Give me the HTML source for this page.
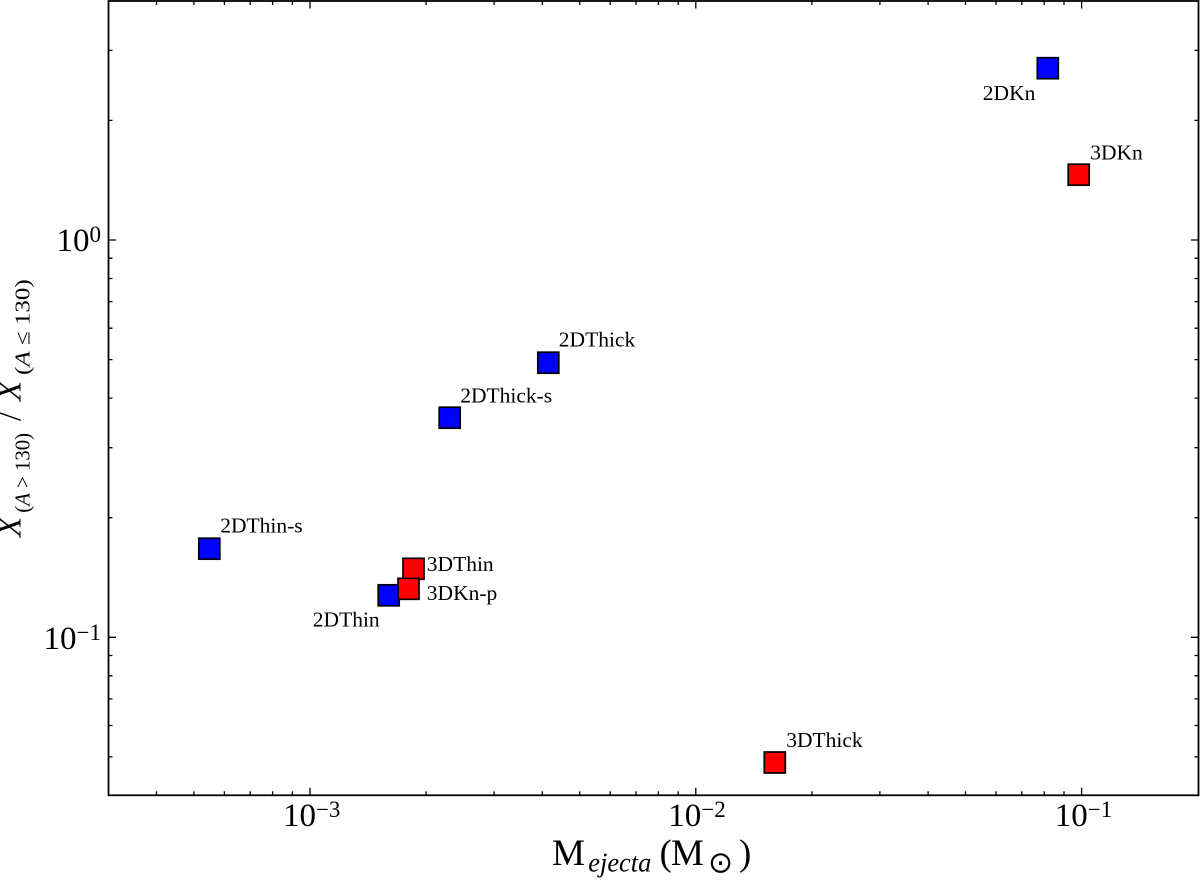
<!DOCTYPE html>
<html>
<head>
<meta charset="utf-8">
<style>
  html, body { margin: 0; padding: 0; background: #ffffff; }
  svg { display: block; }
  text { font-family: "Liberation Serif", "DejaVu Serif", serif; fill: #000; }
</style>
</head>
<body>
<svg width="1200" height="880" viewBox="0 0 1200 880" xmlns="http://www.w3.org/2000/svg">
  <rect x="0" y="0" width="1200" height="880" fill="#ffffff"/>

  <!-- ticks -->
  <g stroke="#000" stroke-width="1.3" fill="none">
    <path d="M310 795.3V787.8M695.8 795.3V787.8M1081.6 795.3V787.8
             M310 1V8.5M695.8 1V8.5M1081.6 1V8.5"/>
    <path d="M156.5 795.3V791.3M193.9 795.3V791.3M224.4 795.3V791.3M250.2 795.3V791.3M272.6 795.3V791.3M292.4 795.3V791.3
             M426.1 795.3V791.3M494.1 795.3V791.3M542.3 795.3V791.3M579.7 795.3V791.3M610.2 795.3V791.3M636 795.3V791.3M658.4 795.3V791.3M678.2 795.3V791.3
             M811.9 795.3V791.3M879.9 795.3V791.3M928.1 795.3V791.3M965.5 795.3V791.3M996 795.3V791.3M1021.8 795.3V791.3M1044.2 795.3V791.3M1064 795.3V791.3"/>
    <path d="M156.5 1V5M193.9 1V5M224.4 1V5M250.2 1V5M272.6 1V5M292.4 1V5
             M426.1 1V5M494.1 1V5M542.3 1V5M579.7 1V5M610.2 1V5M636 1V5M658.4 1V5M678.2 1V5
             M811.9 1V5M879.9 1V5M928.1 1V5M965.5 1V5M996 1V5M1021.8 1V5M1044.2 1V5M1064 1V5"/>
    <path d="M108.5 240H116M108.5 637.3H116M1198.5 240H1191M1198.5 637.3H1191"/>
    <path d="M108.5 756.9H112.5M108.5 725.5H112.5M108.5 698.9H112.5M108.5 675.8H112.5M108.5 655.5H112.5
             M108.5 517.7H112.5M108.5 447.7H112.5M108.5 398.1H112.5M108.5 359.6H112.5M108.5 328.2H112.5M108.5 301.6H112.5M108.5 278.5H112.5M108.5 258.2H112.5
             M108.5 120.4H112.5M108.5 50.4H112.5"/>
    <path d="M1198.5 756.9H1194.5M1198.5 725.5H1194.5M1198.5 698.9H1194.5M1198.5 675.8H1194.5M1198.5 655.5H1194.5
             M1198.5 517.7H1194.5M1198.5 447.7H1194.5M1198.5 398.1H1194.5M1198.5 359.6H1194.5M1198.5 328.2H1194.5M1198.5 301.6H1194.5M1198.5 278.5H1194.5M1198.5 258.2H1194.5
             M1198.5 120.4H1194.5M1198.5 50.4H1194.5"/>
  </g>

  <!-- axes frame -->
  <rect x="108.5" y="1" width="1090" height="794.3" fill="none" stroke="#000" stroke-width="1.8"/>

  <!-- markers -->
  <g stroke="#000" stroke-width="1.7">
    <rect x="198.8" y="538.2" width="21" height="21" fill="#0000ff"/>
    <rect x="378.2" y="584.8" width="21" height="21" fill="#0000ff"/>
    <rect x="439.2" y="407.2" width="21" height="21" fill="#0000ff"/>
    <rect x="537.8" y="352.2" width="21" height="21" fill="#0000ff"/>
    <rect x="1037.3" y="57.7" width="21" height="21" fill="#0000ff"/>
    <rect x="403" y="558.3" width="21" height="21" fill="#ff0000"/>
    <rect x="398" y="578.3" width="21" height="21" fill="#ff0000"/>
    <rect x="764.3" y="752" width="21" height="21" fill="#ff0000"/>
    <rect x="1068.2" y="164.2" width="21" height="21" fill="#ff0000"/>
  </g>

  <!-- point labels -->
  <g font-size="21.5">
    <text x="220.2" y="532.3">2DThin-s</text>
    <text x="312.8" y="626.7">2DThin</text>
    <text x="460.2" y="402.7">2DThick-s</text>
    <text x="558.8" y="346.7">2DThick</text>
    <text x="982.8" y="100">2DKn</text>
    <text x="1090.2" y="159.3">3DKn</text>
    <text x="426.8" y="571">3DThin</text>
    <text x="426.8" y="600">3DKn-p</text>
    <text x="786.2" y="747">3DThick</text>
  </g>

  <!-- x tick labels -->
  <g font-size="33" text-anchor="middle">
    <text x="311.7" y="826">10<tspan dy="-9" font-size="23">−3</tspan></text>
    <text x="697" y="826">10<tspan dy="-9" font-size="23">−2</tspan></text>
    <text x="1083.5" y="826">10<tspan dy="-9" font-size="23">−1</tspan></text>
  </g>

  <!-- y tick labels -->
  <g font-size="33" text-anchor="end">
    <text x="101" y="251">10<tspan dy="-9" font-size="23">0</tspan></text>
    <text x="101" y="649">10<tspan dy="-9" font-size="23">−1</tspan></text>
  </g>

  <!-- x axis label -->
  <text x="552" y="865" font-size="37">M</text>
  <text x="588.3" y="871.7" font-size="27" font-style="italic" textLength="63" lengthAdjust="spacingAndGlyphs">ejecta</text>
  <text x="659.5" y="865" font-size="37">(</text>
  <text x="671" y="865" font-size="37">M</text>
  <text x="708" y="863" font-size="30" dominant-baseline="central" style="font-family:'DejaVu Sans', sans-serif;">⊙</text>
  <text x="739" y="865" font-size="37">)</text>

  <!-- y axis label (rotated) -->
  <g transform="translate(20.5,537) rotate(-90)">
    <text x="0" y="0" font-size="33" font-style="italic">X</text>
    <text x="24.3" y="9" font-size="21" textLength="79.7" lengthAdjust="spacingAndGlyphs">(<tspan font-style="italic">A</tspan> &gt; 130)</text>
    <text x="116" y="0" font-size="32">/</text>
    <text x="136" y="0" font-size="33" font-style="italic">X</text>
    <text x="162" y="9" font-size="21" textLength="95.7" lengthAdjust="spacingAndGlyphs">(<tspan font-style="italic">A</tspan> ≤ 130)</text>
  </g>
</svg>
</body>
</html>
